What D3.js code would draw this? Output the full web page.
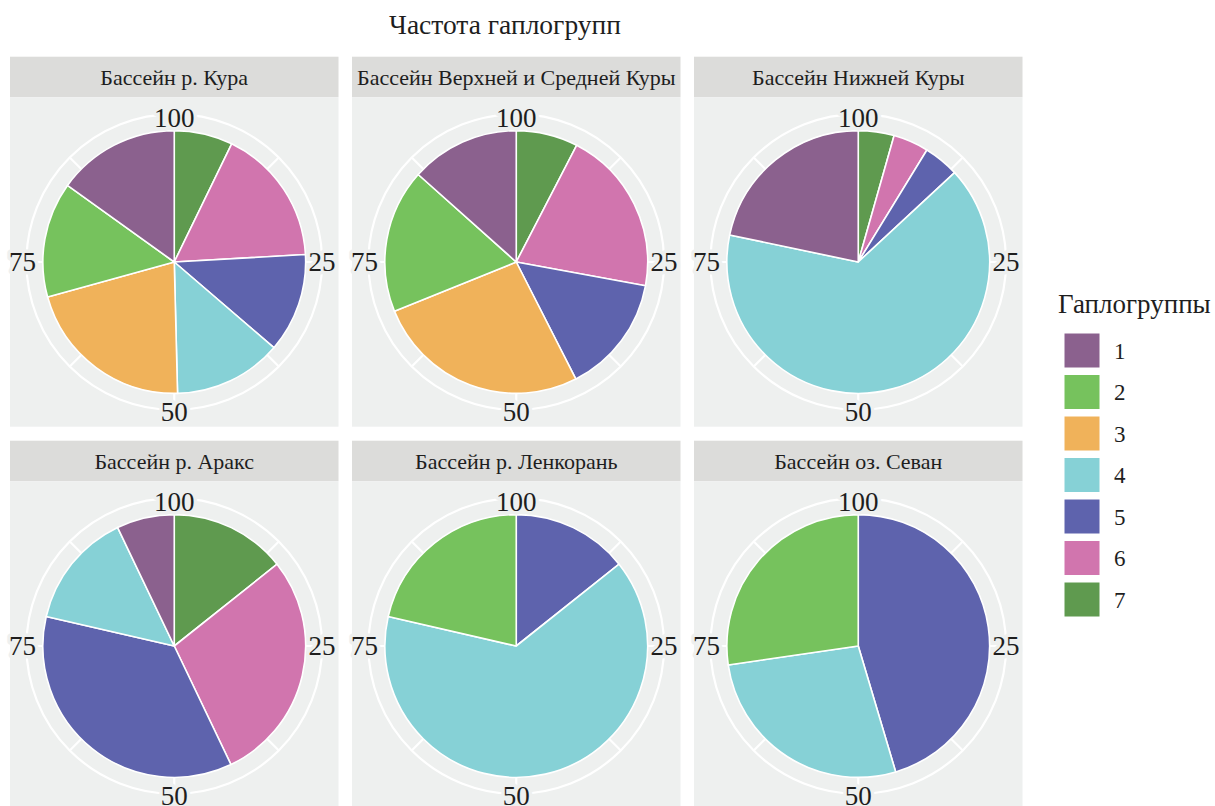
<!DOCTYPE html>
<html>
<head>
<meta charset="utf-8">
<script src="https://cdn.jsdelivr.net/npm/d3@7"></script>
<style>
  html, body { margin: 0; padding: 0; background: #ffffff; }
  svg { display: block; font-family: "Liberation Serif", "DejaVu Serif", serif; }
</style>
</head>
<body>
<svg id="chart" width="1215" height="806"></svg>
<script>
// ---------- data ----------
const chartTitle = "Частота гаплогрупп";
const legendTitle = "Гаплогруппы";
const haplogroups = ["1", "2", "3", "4", "5", "6", "7"];
const groupColors = ["#8B618E", "#76C25D", "#F0B25A", "#86D1D6", "#5E63AD", "#D175AE", "#5F9A4F"];
const panelNames = [
  "Бассейн р. Кура",
  "Бассейн Верхней и Средней Куры",
  "Бассейн Нижней Куры",
  "Бассейн р. Аракс",
  "Бассейн р. Ленкорань",
  "Бассейн оз. Севан"
];
// percentages for haplogroups 1..7
const kura      = [15.1, 14.2, 21.1, 13.3, 12.2, 16.9, 7.2];
const upperMid  = [13.4, 17.7, 26.4, 0,    14.6, 20.3, 7.6];
const lowerKura = [21.7, 0,    0,    65.2, 4.35, 4.35, 4.4];
const araks     = [7.1,  0,    0,    14.3, 35.7, 28.6, 14.3];
const lenkoran  = [0,    21.4, 0,    64.3, 14.3, 0,    0];
const sevan     = [0,    27.3, 0,    27.3, 45.4, 0,    0];
const panelValues = [kura, upperMid, lowerKura, araks, lenkoran, sevan];
const thetaTicks = [0, 25, 50, 75];
const thetaTickLabels = ["100", "25", "50", "75"];
const thetaMinor = [12.5, 37.5, 62.5, 87.5];

// ---------- layout ----------
const svg = d3.select("#chart");
const panelBg = "#EEF0EF", stripBg = "#DCDCDA", textCol = "#1e1e1e";
const colX = [10, 352, 694];
const panelW = 328.5;
const rowStripY = [56.7, 440.7];
const stripH = 40.6;
const bodyH = 329.4;

const theta = d3.scaleLinear().domain([0, 100]).range([0, 2 * Math.PI]);
const color = d3.scaleOrdinal().domain(haplogroups).range(groupColors);

svg.append("text")
  .attr("x", 505).attr("y", 34)
  .attr("text-anchor", "middle")
  .attr("font-size", 27.5).attr("fill", textCol)
  .text(chartTitle);

panelNames.forEach((name, i) => {
  const col = i % 3, row = Math.floor(i / 3);
  const x0 = colX[col], sy = rowStripY[row], by = sy + stripH;
  const g = svg.append("g");
  // strip
  g.append("rect").attr("x", x0).attr("y", sy).attr("width", panelW).attr("height", stripH).attr("fill", stripBg);
  g.append("text")
    .attr("x", x0 + panelW / 2).attr("y", sy + stripH / 2 + 7.5)
    .attr("text-anchor", "middle").attr("font-size", 22).attr("fill", textCol)
    .text(name);
  // body
  g.append("rect").attr("x", x0).attr("y", by).attr("width", panelW).attr("height", bodyH).attr("fill", panelBg);

  const cx = x0 + panelW / 2, cy = by + bodyH / 2;
  const R = 0.4 * Math.min(panelW, bodyH);
  const ringR = 0.45 * Math.min(panelW, bodyH);
  const pg = g.append("g").attr("transform", `translate(${cx},${cy})`);

  // theta grid lines (major + minor)
  thetaTicks.concat(thetaMinor).forEach(t => {
    const a = theta(t);
    pg.append("line")
      .attr("x1", 0).attr("y1", 0)
      .attr("x2", ringR * Math.sin(a)).attr("y2", -ringR * Math.cos(a))
      .attr("stroke", "#ffffff").attr("stroke-width", 2.2);
  });
  pg.append("circle").attr("r", ringR).attr("fill", "none").attr("stroke", "#ffffff").attr("stroke-width", 2.2);

  // slices: stacked from group 7 down to group 1, clockwise from top
  const vals = panelValues[i];
  const order = haplogroups.slice().reverse();
  let cum = 0;
  const slices = [];
  order.forEach(h => {
    const v = vals[haplogroups.indexOf(h)];
    if (v > 0) {
      slices.push({ h, start: cum, end: cum + v });
      cum += v;
    }
  });
  const total = cum;
  const arc = d3.arc().innerRadius(0).outerRadius(R);
  pg.selectAll("path.slice").data(slices).join("path")
    .attr("class", "slice")
    .attr("d", d => arc({ startAngle: theta(d.start * 100 / total), endAngle: theta(d.end * 100 / total) }))
    .attr("fill", d => color(d.h))
    .attr("stroke", "#ffffff").attr("stroke-width", 1.6).attr("stroke-linejoin", "round");

  // theta tick labels
  const labR = ringR;
  const labOff = { 0: -4, 25: 0, 50: 2, 75: 4 };
  thetaTicks.forEach((t, k) => {
    const a = theta(t);
    const r = labR + labOff[t];
    pg.append("text")
      .attr("x", r * Math.sin(a)).attr("y", -r * Math.cos(a))
      .attr("dy", "0.34em")
      .attr("text-anchor", "middle")
      .attr("font-size", 27).attr("fill", textCol)
      .attr("stroke", panelBg).attr("stroke-width", 7).attr("paint-order", "stroke")
      .attr("stroke-linejoin", "round")
      .text(thetaTickLabels[k]);
  });
});

// ---------- legend ----------
const lg = svg.append("g");
lg.append("text").attr("x", 1058).attr("y", 313).attr("font-size", 27).attr("fill", textCol).text(legendTitle);
const keyY = d3.scaleBand().domain(haplogroups).range([333, 333 + 7 * 41.5]);
haplogroups.forEach(h => {
  lg.append("rect")
    .attr("x", 1064).attr("y", keyY(h))
    .attr("width", 36).attr("height", 35)
    .attr("fill", color(h)).attr("stroke", "#ffffff").attr("stroke-width", 1);
  lg.append("text")
    .attr("x", 1114).attr("y", keyY(h) + 17.5).attr("dy", "0.35em")
    .attr("font-size", 23).attr("fill", textCol)
    .text(h);
});
</script>
</body>
</html>
